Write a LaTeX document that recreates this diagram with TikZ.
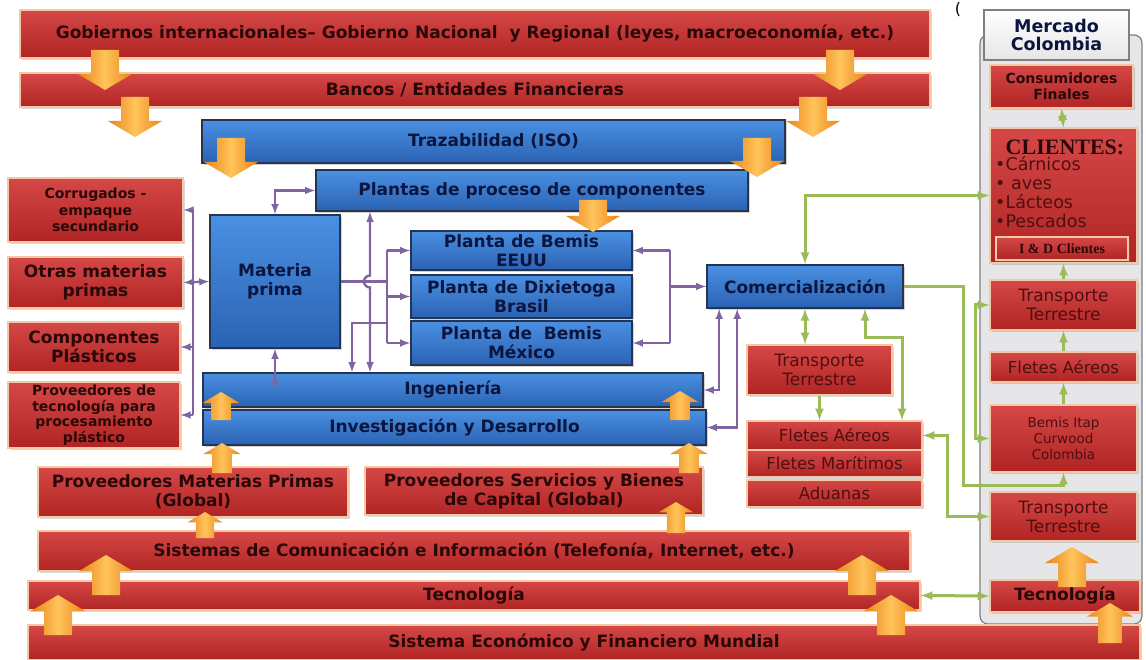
\documentclass[tikz,border=0pt]{standalone}
\usepackage{fontspec}
\setmainfont{DejaVu Sans}
\newfontfamily\serifa{Liberation Serif}
\usetikzlibrary{arrows,positioning,shadows}
\definecolor{rojoA}{HTML}{D64848}
\definecolor{rojoB}{HTML}{B02424}
\definecolor{crema}{HTML}{F2C9A4}
\definecolor{azulA}{HTML}{4A90E2}
\definecolor{azulB}{HTML}{2B62B3}
\definecolor{azulborde}{HTML}{26344F}
\definecolor{tinta}{HTML}{2A0808}
\definecolor{tintaazul}{HTML}{0B1640}
\definecolor{granate}{HTML}{4E0F0F}
\definecolor{naranjaA}{HTML}{E8841A}
\definecolor{naranjaB}{HTML}{FFC45A}
\definecolor{cmorado}{HTML}{8064A2}
\definecolor{cverde}{HTML}{9BBB59}
\definecolor{panelgris}{HTML}{E6E6E8}
\definecolor{bordegris}{HTML}{7F7F7F}
\newcommand\flecha[4][1]{%
  \pgfmathsetmacro\flbase{#4-((#4>#3)-(#4<#3))*16*#1}%
  \pgfmathsetmacro\flshaft{14*#1}%
  \pgfmathsetmacro\flpunta{27*#1}%
  \shade[flecha] (#2-\flshaft,#3) -- (#2+\flshaft,#3) -- (#2+\flshaft,\flbase) -- (#2+\flpunta,\flbase) -- (#2,#4) -- (#2-\flpunta,\flbase) -- (#2-\flshaft,\flbase) -- cycle;}

\begin{document}
\begin{tikzpicture}[x=1pt,y=-1pt,
        rojo/.style={rectangle,inner sep=0pt,top color=rojoA,bottom color=rojoB,draw=crema,line width=1.2pt,
          drop shadow={opacity=.3,shadow xshift=2pt,shadow yshift=-2pt},text=tinta,align=center,
          font=\bfseries\fontsize{17}{19}\selectfont},
        rojofino/.style={rojo,text=granate,font=\fontsize{17}{19}\selectfont},
        azul/.style={rectangle,inner sep=0pt,top color=azulA,bottom color=azulB,draw=azulborde,line width=1.6pt,
          drop shadow={opacity=.35,shadow xshift=2pt,shadow yshift=-2pt},text=tintaazul,align=center,
          font=\bfseries\fontsize{17}{19}\selectfont},
        flecha/.style={left color=naranjaA,right color=naranjaA,middle color=naranjaB},
        morado/.style={draw=cmorado,line width=2.4pt},
        verde/.style={draw=cverde,line width=3pt}]%
        \useasboundingbox (0,0) rectangle (1146,660);
        %\draw[step=50,color=gray,very thin] (0,0) grid (1146,660);%%
        \begin{scope}
        \tikzstyle{every node}=[draw=bordegris,line width=1.2pt,fill=panelgris,inner sep=0pt] %%
        \node[rounded corners=8pt,minimum width=162,minimum height=589] (mercado) at (1061,329.5) {}; %%
        \node[top color=white,bottom color=panelgris,minimum width=145,minimum height=50,align=center,
          text=tintaazul,font=\bfseries\fontsize{17.5}{18}\selectfont] (merc) at (1056.5,35) {Mercado\\Colombia}; %%
        \end{scope}
        \node[text=black,font=\fontsize{16}{16}\selectfont] (paren) at (958,9) {(}; %%
        \begin{scope}
        \tikzstyle{every node}=[rojo] %%
        \node[minimum width=910,minimum height=48] (gob) at (475,34) {Gobiernos internacionales– Gobierno Nacional\ \ y Regional (leyes, macroeconomía, etc.)}; %%
        \node[minimum width=910,minimum height=34] (ban) at (475,90) {Bancos / Entidades Financieras}; %%
        \node[minimum width=175,minimum height=64,font=\bfseries\fontsize{14}{16.5}\selectfont] (corr) at (95.5,210) {Corrugados -\\empaque\\secundario}; %%
        \node[minimum width=175,minimum height=51] (otras) at (95.5,282.5) {Otras materias\\primas}; %%
        \node[minimum width=172,minimum height=50] (comp) at (94,347) {Componentes\\Plásticos}; %%
        \node[minimum width=172,minimum height=66,font=\bfseries\fontsize{14}{15.5}\selectfont] (prov) at (94,415) {Proveedores de\\tecnología para\\procesamiento\\plástico}; %%
        \node[minimum width=310,minimum height=50] (pmp) at (193,492) {Proveedores Materias Primas\\(Global)}; %%
        \node[minimum width=338,minimum height=48] (psb) at (534,491) {Proveedores Servicios y Bienes\\de Capital (Global)}; %%
        \node[minimum width=872,minimum height=40] (sis) at (474,551) {Sistemas de Comunicación e Información (Telefonía, Internet, etc.)}; %%
        \node[minimum width=892,minimum height=29] (tec) at (474,595.5) {Tecnología}; %%
        \node[minimum width=1112,minimum height=35] (eco) at (584,642.5) {Sistema Económico y Financiero Mundial}; %%
        \node[minimum width=143,minimum height=43,font=\bfseries\fontsize{14}{16}\selectfont] (cons) at (1061.5,86.5) {Consumidores\\Finales}; %%
        \node[minimum width=147,minimum height=135] (cli) at (1063.5,195.5) {}; %%
        \node[minimum width=132,minimum height=23,font=\serifa\bfseries\fontsize{14}{14}\selectfont] (iyd) at (1062,248.5) {I \& D Clientes}; %%
        \node[minimum width=150,minimum height=32] (tecR) at (1065,596) {Tecnología}; %%
        \end{scope}
        \begin{scope}
        \tikzstyle{every node}=[rojofino] %%
        \node[minimum width=145,minimum height=50] (trm) at (819.5,370) {Transporte\\Terrestre}; %%
        \node[minimum width=175,minimum height=29,font=\fontsize{16.5}{18}\selectfont] (fa) at (834.5,435.5) {Fletes Aéreos}; %%
        \node[minimum width=175,minimum height=27,font=\fontsize{16.5}{18}\selectfont] (fm) at (834.5,463.5) {Fletes Marítimos}; %%
        \node[minimum width=175,minimum height=27,font=\fontsize{16.5}{18}\selectfont] (adu) at (834.5,493.5) {Aduanas}; %%
        \node[minimum width=147,minimum height=50] (tr1) at (1063.5,305) {Transporte\\Terrestre}; %%
        \node[minimum width=147,minimum height=30,font=\fontsize{16.5}{18}\selectfont] (faR) at (1063.5,367) {Fletes Aéreos}; %%
        \node[minimum width=147,minimum height=67,font=\fontsize{13.5}{16}\selectfont] (bemis) at (1063.5,438.5) {Bemis Itap\\Curwood\\Colombia}; %%
        \node[minimum width=147,minimum height=49] (tr2) at (1063.5,516.5) {Transporte\\Terrestre}; %%
        \end{scope}
        \node[text=tinta,font=\serifa\bfseries\fontsize{22}{22}\selectfont] (clit) at (1065,147) {CLIENTES:}; %%
        \node[anchor=north west,align=left,inner sep=0pt,text=granate,font=\fontsize{17.5}{19}\selectfont] (clil) at (995,156) {•Cárnicos\\• aves\\•Lácteos\\•Pescados}; %%
        \begin{scope}
        \tikzstyle{every node}=[azul] %%
        \node[minimum width=583,minimum height=43] (traz) at (493.5,141.5) {Trazabilidad (ISO)}; %%
        \node[minimum width=432,minimum height=41] (proc) at (532,190.5) {Plantas de proceso de componentes}; %%
        \node[minimum width=130,minimum height=133] (mat) at (275,281.5) {Materia\\prima}; %%
        \node[minimum width=221,minimum height=39] (eeuu) at (521.5,250.5) {Planta de Bemis\\EEUU}; %%
        \node[minimum width=221,minimum height=43] (brasil) at (521.5,296.5) {Planta de Dixietoga\\Brasil}; %%
        \node[minimum width=221,minimum height=44] (mex) at (521.5,343) {Planta de\ \ Bemis\\México}; %%
        \node[minimum width=500,minimum height=34] (ing) at (453,390) {Ingeniería}; %%
        \node[minimum width=503,minimum height=35] (inv) at (454.5,427.5) {Investigación y Desarrollo}; %%
        \node[minimum width=196,minimum height=43] (com) at (805,286.5) {Comercialización}; %%
        \end{scope}
        \coordinate (busL) at (193,0); %%
        \coordinate (busP) at (387,0); %%
        \coordinate (busC) at (670,0); %%
        \coordinate (xl) at (370,0); %%
        \coordinate (xi) at (352,323); %%
        \coordinate (g1) at (963,485); %%
        \coordinate (g2) at (975,0); %%
        \coordinate (g3) at (902,338); %%
        \coordinate (g4) at (947,0); %%
        \draw[morado] (busL |- corr.east) -- (busL |- prov.east); %%
        \draw[morado,-latex] (busL |- corr.east) -- (corr.east); %%
        \draw[morado,latex-latex] (otras.east) -- (mat.west); %%
        \draw[morado,-latex] (busL |- comp.east) -- (comp.east); %%
        \draw[morado,-latex] (busL |- prov.east) -- (prov.east); %%
        \draw[morado,latex-latex] (mat.north) |- (proc.west); %%
        \draw[morado,latex-latex] (mat.south) -- (mat.south |- ing.center); %%
        \draw[morado] (mat.east) -- (mat.east -| busP); %%
        \draw[morado] (busP |- eeuu.west) -- (busP |- mex.west); %%
        \draw[morado,-latex] (busP |- eeuu.west) -- (eeuu.west); %%
        \draw[morado,-latex] (busP |- brasil.west) -- (brasil.west); %%
        \draw[morado,-latex] (busP |- mex.west) -- (mex.west); %%
        \draw[morado,latex-latex] (proc.south -| xl) -- (370,275.5) arc[start angle=270,end angle=90,radius=6] -- (ing.north -| xl); %%
        \draw[morado,-latex] (busP |- xi) -- (xi) -- (ing.north -| xi); %%
        \draw[morado] (busC |- eeuu.east) -- (busC |- mex.east); %%
        \draw[morado,-latex] (busC |- eeuu.east) -- (eeuu.east); %%
        \draw[morado,-latex] (busC |- mex.east) -- (mex.east); %%
        \draw[morado,-latex] (busC |- com.west) -- (com.west); %%
        \draw[morado,latex-latex] ([xshift=13pt]com.south west) |- (ing.east); %%
        \draw[morado,latex-latex] ([xshift=31pt]com.south west) |- (inv.east); %%
        \draw[verde,latex-latex] (com.north) |- (cli.west); %%
        \draw[verde,-latex] (com.east) -| (g1) -| (bemis.south); %%
        \draw[verde,latex-latex] (tr1.west) -- (tr1.west -| g2) -- (bemis.west -| g2) -- (bemis.west); %%
        \draw[verde,latex-latex] (com.south) -- (com.south |- trm.north); %%
        \draw[verde,-latex] (trm.south) -- (trm.south |- fa.north); %%
        \draw[verde,latex-latex] ([xshift=60pt]com.south) |- (g3) -- (g3 |- fa.north); %%
        \draw[verde,latex-latex] (fa.east) -- (fa.east -| g4) |- (tr2.west); %%
        \draw[verde,latex-latex] (tec.east) -- (tecR.west); %%
        \draw[verde,latex-latex] (cons.south) -- (cli.north); %%
        \draw[verde,-latex] (tr1.north) -- (cli.south); %%
        \draw[verde,-latex] (faR.north) -- (tr1.south); %%
        \draw[verde,-latex] (bemis.north) -- (faR.south); %%
        \flecha{105}{50}{90} %%
        \flecha{135}{97}{137} %%
        \flecha{231}{138}{178} %%
        \flecha{840}{50}{90} %%
        \flecha{813}{97}{137} %%
        \flecha{757}{138}{177} %%
        \flecha{593}{200}{232} %%
        \flecha[.7]{221}{420}{392} %%
        \flecha[.7]{680}{420}{391} %%
        \flecha[.7]{222}{473}{443} %%
        \flecha[.7]{689}{473}{443} %%
        \flecha[.65]{205}{538}{512} %%
        \flecha[.65]{676}{533}{502} %%
        \flecha{106}{595}{555} %%
        \flecha{58}{635}{595} %%
        \flecha{862}{595}{555} %%
        \flecha{891}{635}{595} %%
        \flecha{1072}{587}{547} %%
        \flecha[.85]{1110}{643}{603} %%
        \end{tikzpicture}
\end{document}
